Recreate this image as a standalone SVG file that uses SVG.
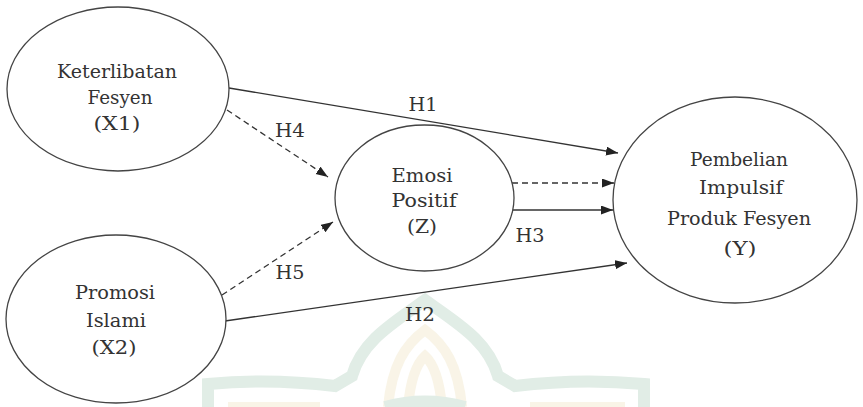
<svg xmlns="http://www.w3.org/2000/svg" width="863" height="407" viewBox="0 0 863 407">
  <style>
    .node { fill: #ffffff; stroke: #444444; stroke-width: 1.3; }
    .lbl { font-family: "DejaVu Serif", "Liberation Serif", serif; fill: #333333; text-anchor: middle; }
    .conn { stroke: #333333; stroke-width: 1.3; fill: none; marker-end: url(#arrow); }
    .dash { stroke-dasharray: 6 4; }
    .wm-green { fill: none; stroke: #dceae2; stroke-width: 12; stroke-linejoin: miter; }
    .wm-cream { fill: none; stroke: #f8f3e3; stroke-width: 10; }
  </style>
  <defs>
    <marker id="arrow" markerUnits="userSpaceOnUse" markerWidth="12" markerHeight="10" refX="12" refY="4.5" orient="auto">
      <path d="M0,0 L12,4.5 L0,9 Z" fill="#222222"/>
    </marker>
  </defs>

  <rect width="863" height="407" fill="#ffffff"/>

  <!-- faint emblem in the lower middle -->
  <g id="emblem" opacity="0.85">
    <path class="wm-green" d="M208,407 V384 Q270,378 335,386 L352,376 C362,340 395,322 425,300 C455,322 488,340 498,376 L515,386 Q580,378 644,384 V407"/>
    <path class="wm-cream" d="M388,407 C392,365 405,345 425,330 C445,345 458,365 462,407"/>
    <path class="wm-cream" d="M408,407 C410,385 415,365 425,356 C435,365 440,385 442,407"/>
    <path class="wm-cream" d="M228,407 H320"/>
    <path class="wm-cream" d="M530,407 H625"/>
    <path class="wm-green" d="M385,407 Q425,396 465,407"/>
  </g>

  <!-- connectors -->
  <g id="connectors">
    <line class="conn" x1="229" y1="88" x2="618" y2="153"/>
    <line class="conn dash" x1="227" y1="110" x2="328" y2="177"/>
    <line class="conn dash" x1="222" y1="295" x2="333" y2="222"/>
    <line class="conn dash" x1="512" y1="183" x2="614" y2="183"/>
    <line class="conn" x1="512" y1="210" x2="613" y2="210"/>
    <line class="conn" x1="225" y1="321" x2="627" y2="263"/>
  </g>

  <!-- hypothesis labels -->
  <g id="labels">
    <text class="lbl" font-size="19" x="423" y="111" textLength="29" lengthAdjust="spacingAndGlyphs">H1</text>
    <text class="lbl" font-size="19" x="290" y="137" textLength="30" lengthAdjust="spacingAndGlyphs">H4</text>
    <text class="lbl" font-size="19" x="290" y="279" textLength="29" lengthAdjust="spacingAndGlyphs">H5</text>
    <text class="lbl" font-size="19" x="530" y="242" textLength="29" lengthAdjust="spacingAndGlyphs">H3</text>
    <text class="lbl" font-size="19" x="420" y="321" textLength="30" lengthAdjust="spacingAndGlyphs">H2</text>
  </g>

  <g id="node-x1">
    <ellipse class="node" cx="118" cy="89" rx="111" ry="82"/>
    <text class="lbl" font-size="19" x="117" y="78" textLength="120" lengthAdjust="spacingAndGlyphs">Keterlibatan</text>
    <text class="lbl" font-size="19" x="120" y="104" textLength="65" lengthAdjust="spacingAndGlyphs">Fesyen</text>
    <text class="lbl" font-size="19" x="117" y="130" textLength="47" lengthAdjust="spacingAndGlyphs">(X1)</text>
  </g>

  <g id="node-x2">
    <ellipse class="node" cx="116" cy="319" rx="110" ry="84"/>
    <text class="lbl" font-size="19" x="115" y="299" textLength="80" lengthAdjust="spacingAndGlyphs">Promosi</text>
    <text class="lbl" font-size="19" x="116" y="327" textLength="60" lengthAdjust="spacingAndGlyphs">Islami</text>
    <text class="lbl" font-size="19" x="114" y="354" textLength="45" lengthAdjust="spacingAndGlyphs">(X2)</text>
  </g>

  <g id="node-z">
    <ellipse class="node" cx="424.5" cy="198" rx="89.5" ry="73"/>
    <text class="lbl" font-size="18" x="422" y="182" textLength="61" lengthAdjust="spacingAndGlyphs">Emosi</text>
    <text class="lbl" font-size="18" x="424" y="207" textLength="65" lengthAdjust="spacingAndGlyphs">Positif</text>
    <text class="lbl" font-size="18" x="422" y="233" textLength="30" lengthAdjust="spacingAndGlyphs">(Z)</text>
  </g>

  <g id="node-y">
    <ellipse class="node" cx="735" cy="200" rx="122" ry="103"/>
    <text class="lbl" font-size="18" x="739" y="166" textLength="98" lengthAdjust="spacingAndGlyphs">Pembelian</text>
    <text class="lbl" font-size="18" x="741" y="194" textLength="84" lengthAdjust="spacingAndGlyphs">Impulsif</text>
    <text class="lbl" font-size="18" x="739" y="225" textLength="144" lengthAdjust="spacingAndGlyphs">Produk Fesyen</text>
    <text class="lbl" font-size="18" x="740" y="255" textLength="33" lengthAdjust="spacingAndGlyphs">(Y)</text>
  </g>
</svg>
